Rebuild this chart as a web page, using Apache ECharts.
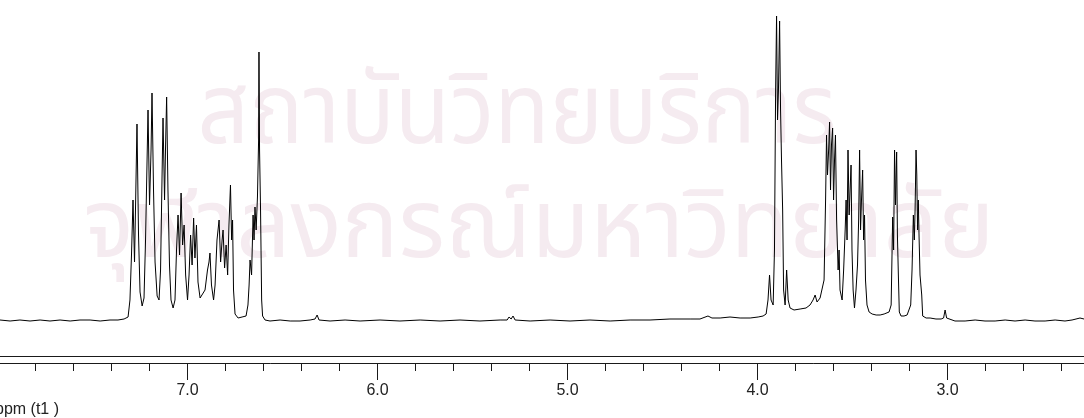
<!DOCTYPE html>
<html>
<head>
<meta charset="utf-8">
<script src="https://cdn.jsdelivr.net/npm/echarts@6/dist/echarts.min.js"></script>
<style>
html,body{margin:0;padding:0;background:#fff;}
#chart{width:1084px;height:418px;}
</style>
</head>
<body>
<div id="chart"></div>
<script>
// chemical shift (ppm) of each traced vertex of the spectrum
const ppm = [
7.987,7.934,7.882,7.829,7.776,7.724,7.671,7.618,7.566,7.513,7.460,7.408,7.366,7.334,7.313,
7.303,7.295,7.287,7.279,7.274,7.266,7.258,7.250,7.239,7.229,
7.221,7.213,7.208,7.200,7.192,7.187,7.179,7.171,7.160,7.150,
7.142,7.134,7.129,7.121,7.116,7.110,7.103,7.095,7.087,7.076,7.066,
7.058,7.050,7.042,7.034,7.026,7.018,7.010,7.000,
6.992,6.984,6.976,6.968,6.961,6.953,6.945,6.934,6.924,
6.908,6.895,6.887,6.882,6.874,6.863,6.855,6.845,6.834,6.826,6.818,6.813,6.805,6.797,6.789,6.782,6.774,6.768,6.763,6.758,6.750,6.734,6.713,6.692,6.682,
6.676,6.671,6.663,6.655,6.650,6.645,6.639,6.632,6.626,6.624,6.621,6.616,6.610,6.605,6.592,
6.566,6.513,6.460,6.408,6.355,6.329,6.318,6.308,6.250,6.171,6.092,5.987,5.882,5.776,5.671,5.566,5.461,5.355,5.318,5.308,5.297,5.287,5.276,5.197,5.092,4.987,4.882,4.776,4.671,4.566,4.461,4.355,4.303,4.261,4.240,4.197,4.145,4.092,4.039,3.997,3.971,3.955,
3.945,3.937,3.929,3.918,3.911,3.905,3.900,3.895,3.890,3.884,3.879,3.874,3.868,3.863,3.855,3.847,3.839,3.829,3.808,3.776,3.745,3.724,3.708,3.697,3.687,3.671,3.661,
3.650,3.642,3.637,3.632,3.626,3.621,3.616,3.611,3.605,3.600,3.595,3.590,3.584,3.576,3.571,3.566,3.555,
3.547,3.539,3.534,3.529,3.524,3.518,3.513,3.508,3.503,3.497,3.490,
3.482,3.474,3.468,3.463,3.458,3.453,3.447,3.442,3.437,3.432,3.424,3.413,3.397,3.376,3.355,3.334,3.324,3.308,3.297,
3.289,3.284,3.279,3.274,3.268,3.264,3.259,3.254,3.245,3.229,3.213,3.203,
3.194,3.187,3.180,3.175,3.171,3.166,3.162,3.158,3.154,3.150,3.145,3.136,3.131,3.113,3.092,3.061,3.034,3.021,3.013,3.005,2.997,
2.961,2.908,2.855,2.803,2.750,2.697,2.645,2.592,2.540,2.487,2.434,2.382,2.345,2.324,2.303,2.282,2.250
];
// signal intensity (arbitrary units) at each vertex
const intensity = [
0,-1,0,-1,0,-1,0,-1,0,0,-1,0,0,1,3,
20,65,120,58,110,196,85,28,14,22,
80,160,210,115,170,227,130,58,24,20,
50,145,202,120,170,223,130,55,20,12,20,
70,105,65,127,75,95,45,20,
45,85,55,102,62,95,38,22,20,
30,50,58,67,35,20,35,80,100,58,80,90,52,75,45,95,135,80,100,30,6,2,3,4,15,
35,60,45,105,80,113,90,123,180,268,170,113,20,4,0,
-1,0,-1,-1,0,1,5,0,-1,0,-1,0,-1,0,-1,0,-1,0,0,3,1,4,0,-1,0,-1,0,-1,0,0,1,1,1,4,2,2,3,2,2,3,4,6,
20,45,20,15,70,230,304,200,230,299,210,160,110,30,15,50,20,12,10,11,12,15,20,25,18,22,20,
40,120,185,145,170,198,130,175,192,120,160,185,100,50,70,30,20,
50,90,120,80,170,105,130,155,70,30,12,
30,55,100,170,90,120,150,80,105,40,15,8,6,5,5,6,6,8,15,
103,70,170,115,168,85,45,8,4,4,5,6,
15,50,105,80,110,170,145,90,120,83,45,25,4,2,2,1,1,2,10,2,0,
-1,-1,0,-1,-1,0,-1,0,-1,-1,0,-1,0,1,2,1,0
];
// axis ticks and labels
const minorTicks = [2.4,2.6,2.8,3.2,3.4,3.6,3.8,4.2,4.4,4.6,4.8,5.2,5.4,5.6,5.8,6.2,6.4,6.6,6.8,7.2,7.4,7.6,7.8];
const majorTicks = [3.0, 4.0, 5.0, 6.0, 7.0];
const axisTitle = 'ppm (t1 )';
const watermark = ['สถาบันวิทยบริการ', 'จุฬาลงกรณ์มหาวิทยาลัย'];

const data = ppm.map((p, i) => [p, intensity[i]]);
const X_MIN = 2.282, X_MAX = 7.987;
const AX = '#1a1a1a';

const chart = echarts.init(document.getElementById('chart'), null, {renderer: 'canvas'});
chart.setOption({
  animation: false,
  backgroundColor: '#ffffff',
  grid: {left: 0, right: 0, top: 0, bottom: 55, containLabel: false},
  xAxis: [{
    type: 'value', inverse: true, min: X_MIN, max: X_MAX, position: 'bottom', offset: 0,
    axisLine: {show: true, onZero: false, lineStyle: {color: AX, width: 1}},
    axisTick: {show: true, length: 8, customValues: minorTicks, lineStyle: {color: AX, width: 1}},
    splitLine: {show: false},
    axisLabel: {show: false}
  }, {
    type: 'value', inverse: true, min: X_MIN, max: X_MAX, position: 'bottom', offset: 0,
    axisLine: {show: false, onZero: false},
    axisTick: {show: true, length: 17, customValues: majorTicks, lineStyle: {color: AX, width: 1}},
    splitLine: {show: false},
    axisLabel: {
      show: true, margin: 20, color: '#222', fontSize: 16,
      fontFamily: 'Liberation Sans, Arial, sans-serif',
      customValues: majorTicks,
      formatter: v => Number(v).toFixed(1)
    }
  }],
  yAxis: {type: 'value', min: -43, max: 320, show: false, splitLine: {show: false}},
  graphic: [
    {type: 'text', z: -10, silent: true, x: 517, y: 73, scaleX: 0.912,
     style: {text: watermark[0], fontSize: 99, fill: 'rgb(245,235,240)',
       textAlign: 'center', align: 'center', textVerticalAlign: 'top', verticalAlign: 'top',
       fontFamily: 'Noto Sans Thai, Noto Sans, DejaVu Sans, sans-serif'}},
    {type: 'text', z: -10, silent: true, x: 539, y: 190, scaleX: 0.99,
     style: {text: watermark[1], fontSize: 96, fill: 'rgb(245,235,240)',
       textAlign: 'center', align: 'center', textVerticalAlign: 'top', verticalAlign: 'top',
       fontFamily: 'Noto Sans Thai, Noto Sans, DejaVu Sans, sans-serif'}},
    {type: 'line', z: 5, silent: true,
     shape: {x1: 0, y1: 356.5, x2: 1084, y2: 356.5},
     style: {stroke: AX, lineWidth: 1}},
    {type: 'text', z: 5, silent: true, left: -5, top: 402,
     style: {text: axisTitle, fontSize: 16, fill: '#222',
       fontFamily: 'Liberation Sans, Arial, sans-serif'}}
  ],
  series: [{
    type: 'line', data: data, xAxisIndex: 0, showSymbol: false, symbol: 'none',
    lineStyle: {color: '#000', width: 1}, z: 3
  }]
});
</script>
</body>
</html>
